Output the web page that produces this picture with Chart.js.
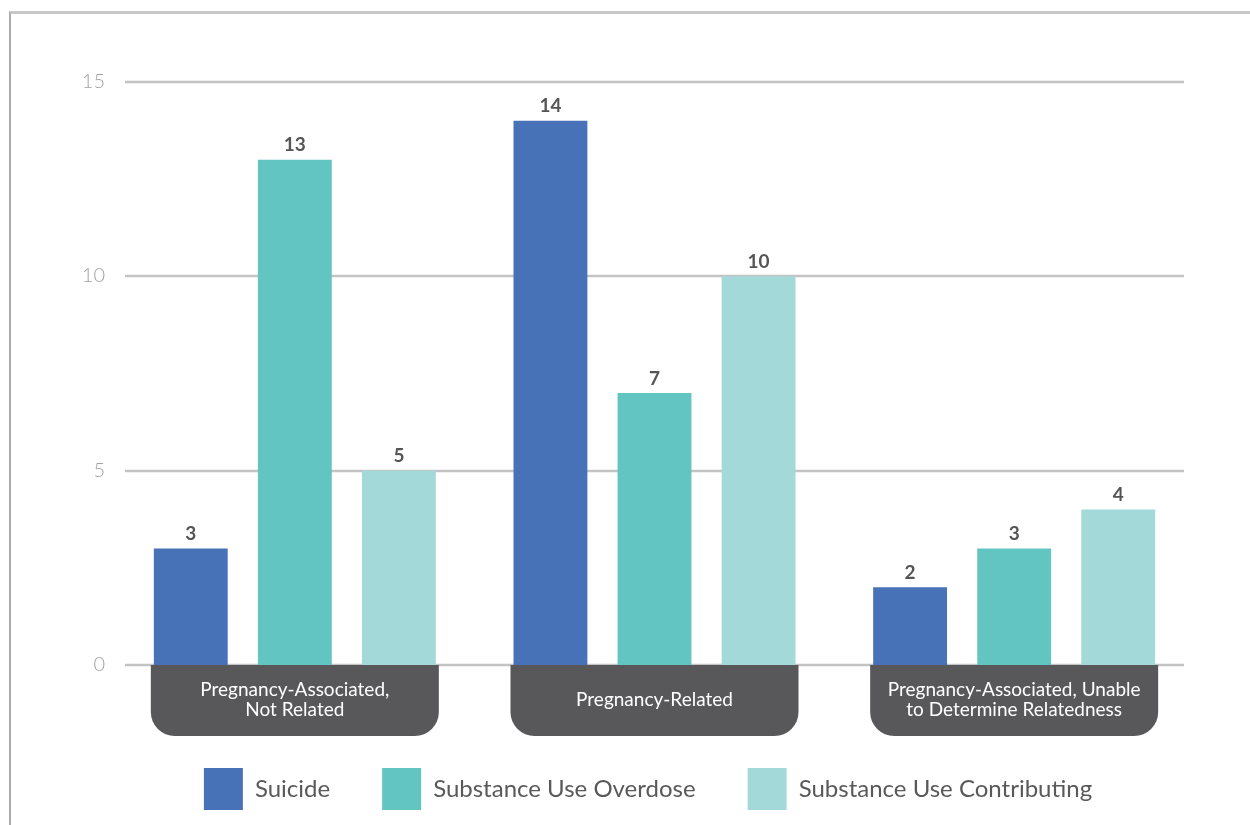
<!DOCTYPE html>
<html>
<head>
<meta charset="utf-8">
<script src="https://cdn.jsdelivr.net/npm/chart.js@4.4.1/dist/chart.umd.min.js"></script>
<style>
  body { margin: 0; background: #fff; }
  #wrap { position: relative; width: 1250px; height: 825px; overflow: hidden; }
  #frame {
    position: absolute; left: 9px; top: 11px; width: 1300px; height: 900px;
    border-top: 3px solid #c8c8c8; border-left: 2px solid #ababab;
  }
  #chart { position: absolute; left: 0; top: 0; }
</style>
</head>
<body>
<div id="wrap">
  <div id="frame"></div>
  <canvas id="chart" width="1250" height="825"></canvas>
</div>
<script>
const categories = [
  ["Pregnancy-Associated,", "Not Related"],
  ["Pregnancy-Related"],
  ["Pregnancy-Associated, Unable", "to Determine Relatedness"]
];
const seriesNames = ["Suicide", "Substance Use Overdose", "Substance Use Contributing"];
const suicide = [3, 14, 2];
const overdose = [13, 7, 3];
const contributing = [5, 10, 4];
const yTicks = [0, 5, 10, 15];

const colors = ["#4872b8", "#62c5c1", "#a3dad9"];
const FONT = "Lato, 'Open Sans', sans-serif";

// grid lines inset from the plot edges, with their values on the left
const gridLines = {
  id: "gridLines",
  beforeDatasetsDraw(chart) {
    const { ctx, chartArea, scales } = chart;
    ctx.save();
    ctx.strokeStyle = "#c3c3c3";
    ctx.lineWidth = 2.5;
    ctx.fillStyle = "#a3a3a3";
    ctx.font = "300 20px " + FONT;
    ctx.textAlign = "right";
    ctx.textBaseline = "middle";
    yTicks.forEach(v => {
      const y = Math.round(scales.y.getPixelForValue(v));
      ctx.beginPath();
      ctx.moveTo(chartArea.left + 10, y);
      ctx.lineTo(chartArea.right - 10, y);
      ctx.stroke();
      ctx.fillText(String(v), chartArea.left - 10, y);
    });
    ctx.restore();
  }
};

// value above each bar
const barValues = {
  id: "barValues",
  afterDatasetsDraw(chart) {
    const { ctx } = chart;
    ctx.save();
    ctx.font = "bold 19px " + FONT;
    ctx.fillStyle = "#555555";
    ctx.textAlign = "center";
    ctx.textBaseline = "bottom";
    chart.data.datasets.forEach((ds, i) => {
      chart.getDatasetMeta(i).data.forEach((bar, j) => {
        ctx.fillText(ds.data[j], bar.x, bar.y - 5);
      });
    });
    ctx.restore();
  }
};

// dark rounded tabs holding the category names
const categoryTabs = {
  id: "categoryTabs",
  afterDatasetsDraw(chart) {
    const { ctx, scales } = chart;
    const first = chart.getDatasetMeta(0).data;
    const last = chart.getDatasetMeta(2).data;
    const top = scales.y.getPixelForValue(0);
    const h = 71, r = 24;
    ctx.save();
    categories.forEach((lines, j) => {
      const left = first[j].x - first[j].width / 2 - 3;
      const right = last[j].x + last[j].width / 2 + 3;
      ctx.fillStyle = "#58585a";
      ctx.beginPath();
      ctx.roundRect(left, top, right - left, h, [0, 0, r, r]);
      ctx.fill();
      ctx.fillStyle = "#ffffff";
      ctx.font = "19px " + FONT;
      ctx.textAlign = "center";
      ctx.textBaseline = "middle";
      const cx = (left + right) / 2;
      const lh = 20;
      const y0 = top + h / 2 - (lines.length - 1) * lh / 2 - 1;
      lines.forEach((t, k) => ctx.fillText(t, cx, y0 + k * lh));
    });
    ctx.restore();
  }
};

const data = {
  labels: categories,
  datasets: [suicide, overdose, contributing].map((vals, i) => ({
    label: seriesNames[i],
    data: vals,
    backgroundColor: colors[i],
    borderWidth: 0,
    barPercentage: 0.71,
    categoryPercentage: 0.868
  }))
};

new Chart(document.getElementById("chart"), {
  type: "bar",
  data: data,
  options: {
    responsive: false,
    animation: false,
    // left padding keeps the legend centred under the bars
    layout: { padding: { left: 102, right: 56, top: 82, bottom: 5 } },
    scales: {
      x: {
        grid: { display: false },
        border: { display: false },
        ticks: { display: false },
        afterFit(scale) { scale.height = 51; }
      },
      y: {
        min: 0,
        max: 15,
        afterBuildTicks(scale) { scale.ticks = yTicks.map(v => ({ value: v })); },
        afterFit(scale) { scale.width = 13; },
        grid: { display: false, drawTicks: false },
        border: { display: false },
        ticks: { display: false }
      }
    },
    plugins: {
      tooltip: { enabled: false },
      legend: {
        position: "bottom",
        labels: {
          boxWidth: 39,
          boxHeight: 42,
          padding: 52,
          color: "#595959",
          font: { family: FONT, size: 24 }
        }
      }
    }
  },
  plugins: [gridLines, barValues, categoryTabs]
});
</script>
</body>
</html>
